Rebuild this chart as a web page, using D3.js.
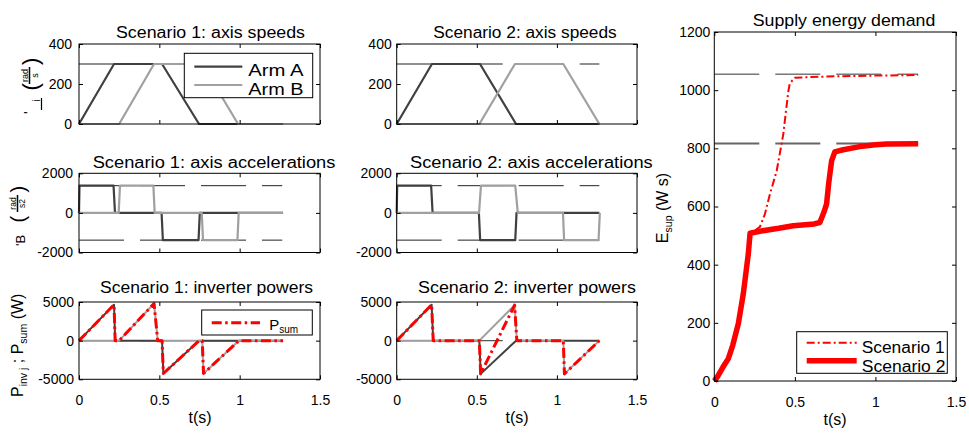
<!DOCTYPE html>
<html>
<head>
<meta charset="utf-8">
<script src="https://cdn.jsdelivr.net/npm/d3@7.9.0/dist/d3.min.js"></script>
<style>
  body { margin: 0; background: #fff; }
  svg { font-family: "Liberation Sans", Arial, sans-serif; }
</style>
</head>
<body>
<svg id="fig" width="969" height="434"></svg>
<script>
// ---- data ----
const timeTicks = [0, 0.5, 1, 1.5];
const timeTickLabels = ["0", "0.5", "1", "1.5"];
const speedTicks = [0, 200, 400];
const accelTicks = [-2000, 0, 2000];
const powerTicks = [-5000, 0, 5000];
const energyTicks = [0, 200, 400, 600, 800, 1000, 1200];

const speedRef = [300];
const accelRef = [1375, -1375];
const powerRef = [0];
const energyRef = [1055, 817];
const refEnd = 1.265;

// scenario 1: axis speeds (rad/s)
const s1SpeedA_t = [0, 0.218, 0.517, 0.747, 1.27];
const s1SpeedA   = [0, 300, 300, 0, 0];
const s1SpeedB_t = [0, 0.25, 0.467, 0.767, 0.99, 1.27];
const s1SpeedB   = [0, 0, 300, 300, 0, 0];
// scenario 2: axis speeds
const s2SpeedA_t = [0, 0.22, 0.52, 0.745, 1.265];
const s2SpeedA   = [0, 300, 300, 0, 0];
const s2SpeedB_t = [0, 0.516, 0.738, 1.04, 1.265];
const s2SpeedB   = [0, 0, 300, 300, 0];

// scenario 1: axis accelerations (rad/s2)
const s1AccA_t = [0, 0.003, 0.215, 0.224, 0.514, 0.522, 0.744, 0.752, 1.27];
const s1AccA   = [0, 1375, 1375, 0, 0, -1375, -1375, 0, 0];
const s1AccB_t = [0, 0.247, 0.255, 0.463, 0.471, 0.764, 0.772, 0.986, 0.994, 1.27];
const s1AccB   = [0, 0, 1375, 1375, 0, 0, -1375, -1375, 0, 0];
// scenario 2: axis accelerations
const s2AccA_t = [0, 0.003, 0.215, 0.224, 0.513, 0.521, 0.74, 0.748, 1.265];
const s2AccA   = [0, 1375, 1375, 0, 0, -1375, -1375, 0, 0];
const s2AccB_t = [0, 0.514, 0.526, 0.74, 0.756, 1.038, 1.045, 1.26, 1.268];
const s2AccB   = [0, 0, 1375, 1375, 0, 0, -1375, -1375, 0];

// scenario 1: inverter powers (W)
const s1PowA_t = [0, 0.218, 0.225, 0.517, 0.525, 0.747, 1.27];
const s1PowA   = [0, 4650, 0, 0, -4250, 0, 0];
const s1PowB_t = [0, 0.25, 0.467, 0.49, 0.767, 0.775, 0.995, 1.27];
const s1PowB   = [0, 0, 4800, 0, 0, -4250, 0, 0];
const s1PowSum_t = [0, 0.218, 0.225, 0.25, 0.467, 0.49, 0.517, 0.525, 0.747, 0.767, 0.775, 0.995, 1.27];
const s1PowSum   = [0, 4650, 0, 0, 4800, 0, 0, -4250, 0, 0, -4250, 0, 0];
// scenario 2: inverter powers
const s2PowA_t = [0, 0.218, 0.228, 0.516, 0.524, 0.745, 1.265];
const s2PowA   = [0, 4650, 0, 0, -4300, 0, 0];
const s2PowB_t = [0, 0.516, 0.736, 0.75, 1.04, 1.047, 1.265];
const s2PowB   = [0, 0, 4600, 0, 0, -4300, 0];
const s2PowSum_t = [0, 0.218, 0.228, 0.516, 0.524, 0.736, 0.75, 1.04, 1.047, 1.265];
const s2PowSum   = [0, 4650, 0, 0, -4300, 4600, 0, 0, -4300, 0];

// supply energy demand (W s)
const e1_t = [0, 0.02, 0.054, 0.087, 0.114, 0.149, 0.18, 0.211, 0.222, 0.25, 0.283, 0.314, 0.345, 0.387, 0.428, 0.459, 0.469, 0.5, 0.7, 1.0, 1.265];
const e1   = [0, 15, 48, 77, 122, 197, 300, 437, 508, 516, 530, 574, 642, 722, 848, 995, 1024, 1043, 1047, 1050, 1052];
const e2_t = [0, 0.02, 0.054, 0.087, 0.114, 0.149, 0.18, 0.211, 0.222, 0.283, 0.4, 0.49, 0.62, 0.655, 0.68, 0.697, 0.71, 0.728, 0.748, 0.8, 0.903, 1.0, 1.07, 1.265];
const e2   = [0, 15, 48, 77, 122, 197, 300, 437, 508, 515, 525, 534, 540, 545, 580, 609, 680, 757, 788, 795, 806, 812, 815, 816];

// ---- drawing ----
const svg = d3.select("#fig");
const DARK = "#404040", LIGHT = "#a0a0a0", RED = "#ff0000";

function panel(box, xDom, yDom, yTicks, showXLabels, pad) {
  const x = d3.scaleLinear().domain(xDom).range([box.x0, box.x1]);
  const y = d3.scaleLinear().domain(yDom).range([box.y1, box.y0]);
  const g = svg.append("g");
  const data = g.append("g");
  const ax = g.append("g");
  const fix = sel => {
    sel.select(".domain").remove();
    sel.attr("font-family", null).attr("font-size", 14);
    sel.selectAll("text").attr("fill", "#000");
  };
  ax.append("g").attr("transform", `translate(${box.x0},0)`)
    .call(d3.axisLeft(y).tickValues(yTicks).tickSizeInner(-4).tickSizeOuter(0)
      .tickPadding(pad).tickFormat(d => String(d))).call(fix);
  ax.append("g").attr("transform", `translate(${box.x1},0)`)
    .call(d3.axisRight(y).tickValues(yTicks).tickSizeInner(-4).tickSizeOuter(0).tickFormat("")).call(fix);
  ax.append("g").attr("transform", `translate(0,${box.y1})`)
    .call(d3.axisBottom(x).tickValues(timeTicks).tickSizeInner(-4).tickSizeOuter(0)
      .tickPadding(showXLabels ? 16 : 0)
      .tickFormat((d, i) => showXLabels ? timeTickLabels[i] : "")).call(fix);
  ax.append("g").attr("transform", `translate(0,${box.y0})`)
    .call(d3.axisTop(x).tickValues(timeTicks).tickSizeInner(-4).tickSizeOuter(0).tickFormat("")).call(fix);
  ax.append("rect").attr("x", box.x0).attr("y", box.y0)
    .attr("width", box.x1 - box.x0).attr("height", box.y1 - box.y0)
    .attr("fill", "none").attr("stroke", "#000").attr("stroke-width", 1);
  return { x, y, data, g };
}

function series(p, ts, vs, color, width, dash) {
  const line = d3.line().x(d => p.x(d[0])).y(d => p.y(d[1]));
  p.data.append("path").attr("d", line(d3.zip(ts, vs)))
    .attr("fill", "none").attr("stroke", color).attr("stroke-width", width)
    .attr("stroke-dasharray", dash || null).attr("stroke-linejoin", "round");
}

function refLines(p, levels, color, width) {
  levels.forEach(v => {
    p.data.append("line")
      .attr("x1", p.x(0)).attr("x2", p.x(refEnd))
      .attr("y1", p.y(v)).attr("y2", p.y(v))
      .attr("stroke", color).attr("stroke-width", width)
      .attr("stroke-dasharray", "45,16");
  });
}

function title(txt, x0, x1, yb, size) {
  svg.append("text").attr("x", x0).attr("y", yb).attr("font-size", size || 16)
    .attr("textLength", x1 - x0).attr("lengthAdjust", "spacingAndGlyphs").text(txt);
}

function xLabel(cx, yb) {
  svg.append("text").attr("x", cx).attr("y", yb).attr("font-size", 16)
    .attr("text-anchor", "middle").text("t(s)");
}

const col1 = { x0: 79, x1: 320 }, col2 = { x0: 396.7, x1: 637 };
const row1 = { y0: 44, y1: 124 }, row2 = { y0: 173.3, y1: 252.5 }, row3 = { y0: 302, y1: 379.3 };

// speeds
const p1 = panel({ ...col1, ...row1 }, [0, 1.5], [0, 400], speedTicks, false, 7);
refLines(p1, speedRef, "#222", 1);
series(p1, s1SpeedA_t, s1SpeedA, DARK, 2.2);
series(p1, s1SpeedB_t, s1SpeedB, LIGHT, 2.2);

const p2 = panel({ ...col2, ...row1 }, [0, 1.5], [0, 400], speedTicks, false, 5);
refLines(p2, speedRef, "#222", 1);
series(p2, s2SpeedA_t, s2SpeedA, DARK, 2.2);
series(p2, s2SpeedB_t, s2SpeedB, LIGHT, 2.2);

// accelerations
const p3 = panel({ ...col1, ...row2 }, [0, 1.5], [-2000, 2000], accelTicks, false, 6);
refLines(p3, accelRef, "#222", 1);
series(p3, s1AccA_t, s1AccA, DARK, 2.2);
series(p3, s1AccB_t, s1AccB, LIGHT, 2.2);

const p4 = panel({ ...col2, ...row2 }, [0, 1.5], [-2000, 2000], accelTicks, false, 5);
refLines(p4, accelRef, "#222", 1);
series(p4, s2AccA_t, s2AccA, DARK, 2.2);
series(p4, s2AccB_t, s2AccB, LIGHT, 2.2);

// powers
const p5 = panel({ ...col1, ...row3 }, [0, 1.5], [-5000, 5000], powerTicks, true, 5);
refLines(p5, powerRef, "#333", 1.2);
series(p5, s1PowA_t, s1PowA, DARK, 2);
series(p5, s1PowB_t, s1PowB, LIGHT, 2);
series(p5, s1PowSum_t, s1PowSum, RED, 3, "10,3.5,2.5,3.5");

const p6 = panel({ ...col2, ...row3 }, [0, 1.5], [-5000, 5000], powerTicks, true, 5);
refLines(p6, powerRef, "#555", 1.2);
series(p6, s2PowA_t, s2PowA, DARK, 2);
series(p6, s2PowB_t, s2PowB, LIGHT, 2);
series(p6, s2PowSum_t, s2PowSum, RED, 3, "10,3.5,2.5,3.5");

// energy
const p7 = panel({ x0: 714.3, x1: 956, y0: 32, y1: 381 }, [0, 1.5], [0, 1200], energyTicks, true, 4);
refLines(p7, [energyRef[0]], "#333", 1);
refLines(p7, [energyRef[1]], "#666", 2);
series(p7, e1_t, e1, RED, 2, "8,3,2,3");
series(p7, e2_t, e2, RED, 5.5);

// titles
title("Scenario 1:  axis speeds", 116, 305, 37.5);
title("Scenario 2:  axis speeds", 433.3, 616.7, 37.5);
title("Scenario 1:  axis accelerations", 92.7, 335.4, 168.3);
title("Scenario 2:  axis accelerations", 410, 652.7, 168.3);
title("Scenario 1:  inverter powers", 100, 313, 292.7);
title("Scenario 2:  inverter powers", 418, 636, 292.7);
title("Supply energy demand", 752.7, 935.3, 26, 17);

xLabel(200, 423);
xLabel(517, 423);
xLabel(835, 425);

// legends
function legendBox(x, y, w, h) {
  svg.append("rect").attr("x", x).attr("y", y).attr("width", w).attr("height", h)
    .attr("fill", "#fff").attr("stroke", "#000").attr("stroke-width", 1);
}
function legendLine(x1, x2, y, color, width, dash) {
  svg.append("line").attr("x1", x1).attr("x2", x2).attr("y1", y).attr("y2", y)
    .attr("stroke", color).attr("stroke-width", width).attr("stroke-dasharray", dash || null);
}
legendBox(184.3, 53.3, 128.4, 44.4);
legendLine(194.3, 242.3, 66.7, DARK, 2.2);
legendLine(194.3, 242.3, 85, LIGHT, 2.2);
title("Arm A", 248.3, 303.5, 76, 16);
title("Arm B", 248.3, 303.5, 94.5, 16);

legendBox(201.7, 310, 110.6, 25);
legendLine(211.7, 260, 322.7, RED, 3, "10,3.5,2.5,3.5");
const ps = svg.append("text").attr("x", 269.3).attr("y", 330).attr("font-size", 15);
ps.append("tspan").text("P");
ps.append("tspan").attr("font-size", 10).attr("dy", 3).text("sum");

legendBox(796.7, 331.7, 150.6, 41.6);
legendLine(806.7, 856.7, 342.7, RED, 2, "8,3,2,3");
legendLine(806.7, 856.7, 360.7, RED, 5.5);
title("Scenario 1", 861.7, 944.7, 353, 16);
title("Scenario 2", 861.7, 945.5, 371.5, 16);

// y labels (rotated)
function rot(cx, cy) {
  return svg.append("g").attr("transform", `translate(${cx},${cy}) rotate(-90)`);
}
function rtext(g, u, v, s, size, anchor) {
  return g.append("text").attr("x", u).attr("y", v).attr("font-size", size)
    .attr("text-anchor", anchor || "start").text(s);
}
// speeds: omega_i (rad/s)
const l1 = rot(0, 87);
rtext(l1, -27, 34, "'", 14);
rtext(l1, -14.5, 40, "i", 10);
l1.append("line").attr("x1", -23).attr("x2", -11).attr("y1", 41.5).attr("y2", 41.5).attr("stroke", "#000").attr("stroke-width", 1.2);
rtext(l1, -3.5, 38, "(", 22);
rtext(l1, 22, 38, ")", 22);
l1.append("line").attr("x1", 3).attr("x2", 20).attr("y1", 29.5).attr("y2", 29.5).attr("stroke", "#000").attr("stroke-width", 1.5);
rtext(l1, 11.5, 28, "rad", 9, "middle");
rtext(l1, 11.5, 38, "s", 9, "middle");

// accelerations: 'B (rad/s2)
const l2 = rot(0, 213);
rtext(l2, -33, 25, "'B", 13);
rtext(l2, -9.5, 25, "(", 20);
rtext(l2, 20.5, 25, ")", 20);
l2.append("line").attr("x1", 1).attr("x2", 18).attr("y1", 17.5).attr("y2", 17.5).attr("stroke", "#000").attr("stroke-width", 1.5);
rtext(l2, 9.5, 16, "rad", 8.5, "middle");
rtext(l2, 9.5, 25, "s2", 8.5, "middle");

// powers: P_inv j ; P_sum (W)
const l3 = rot(23, 397);
const t3 = l3.append("text").attr("x", 0).attr("y", 0).attr("font-size", 16);
t3.append("tspan").text("P");
t3.append("tspan").attr("font-size", 10.5).attr("dy", 4).text("inv j");
t3.append("tspan").attr("dy", -4).text(" ; P");
t3.append("tspan").attr("font-size", 10.5).attr("dy", 4).text("sum");
t3.append("tspan").attr("dy", -4).text(" (W)");

// energy: E_sup (W s)
const l4 = rot(668, 208);
const t4 = l4.append("text").attr("x", 0).attr("y", 0).attr("font-size", 16).attr("text-anchor", "middle");
t4.append("tspan").text("E");
t4.append("tspan").attr("font-size", 10.5).attr("dy", 4).text("sup");
t4.append("tspan").attr("dy", -4).text(" (W s)");
</script>
</body>
</html>
